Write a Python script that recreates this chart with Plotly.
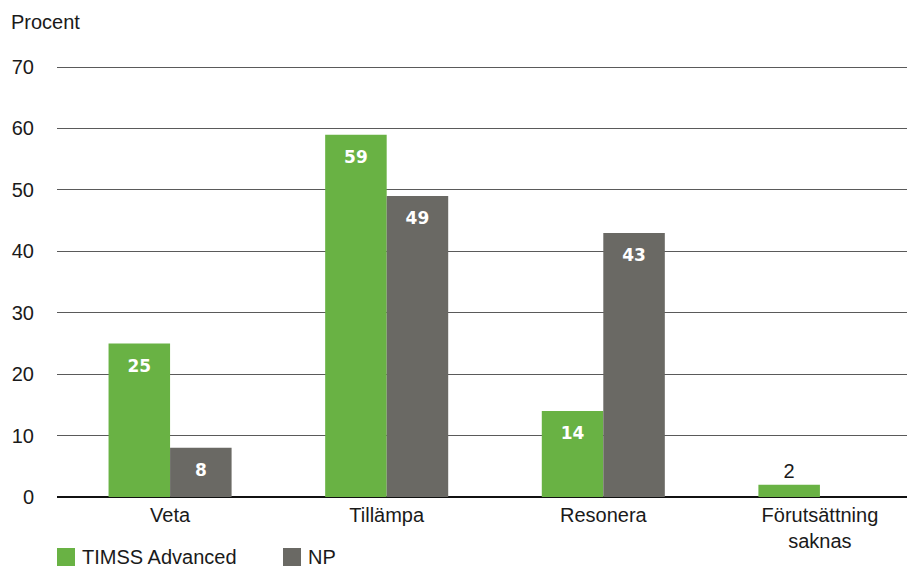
import plotly.graph_objects as go

# Data
categories = ["Veta", "Tillämpa", "Resonera", "Förutsättning<br>saknas"]
series_names = ["TIMSS Advanced", "NP"]
timss_values = [25, 59, 14, 2]
np_values = [8, 49, 43, None]
y_ticks = [0, 10, 20, 30, 40, 50, 60, 70]

GREEN = "#69B244"
GRAY = "#6A6964"
TEXT = "#1a1a1a"
FONT = "Liberation Sans, Arial, sans-serif"
FS = 20

W, H = 907, 567
M_L, M_R, M_T, M_B = 57, 0, 64, 70


def label_pos(v):
    return "outside" if v is not None and v < 5 else "inside"


def label_text(v):
    if v is None:
        return ""
    if v < 5:
        return str(v)
    # spacer line keeps the value a little below the top of the bar
    return "<span style='font-size:3px'> </span><br>" + str(v)


fig = go.Figure()
for name, vals, col in [(series_names[0], timss_values, GREEN),
                        (series_names[1], np_values, GRAY)]:
    fig.add_trace(go.Bar(
        name=name,
        x=list(range(len(categories))),
        y=vals,
        marker=dict(color=col, line=dict(width=0)),
        text=[label_text(v) for v in vals],
        textposition=[label_pos(v) for v in vals],
        insidetextanchor="end",
        insidetextfont=dict(family="DejaVu Sans, sans-serif", size=17,
                            color="white", weight="bold"),
        outsidetextfont=dict(family=FONT, size=FS, color=TEXT),
        cliponaxis=False,
        showlegend=False,
    ))

fig.update_layout(
    width=W, height=H,
    margin=dict(l=M_L, r=M_R, t=M_T, b=M_B),
    plot_bgcolor="white", paper_bgcolor="white",
    barmode="group", bargap=0.432, bargroupgap=0,
    font=dict(family=FONT, size=FS, color=TEXT),
    xaxis=dict(
        tickmode="array",
        tickvals=list(range(len(categories))),
        ticktext=categories,
        range=[-0.522, 3.402],
        showgrid=False, zeroline=False,
        showline=False, ticks="",
        ticklabelstandoff=4,
        tickfont=dict(size=FS, color=TEXT),
    ),
    yaxis=dict(
        range=[0, 70.5],
        tickvals=y_ticks,
        showgrid=True, gridcolor="#5a5a5a", gridwidth=1,
        zeroline=True, zerolinecolor="#111111", zerolinewidth=1.5,
        showline=False, ticks="",
        ticklabelstandoff=22,
        tickfont=dict(size=FS, color=TEXT),
    ),
)

plot_w = W - M_L - M_R
plot_h = H - M_T - M_B

# Axis title placed above the value labels
fig.add_annotation(
    text="Procent", xref="paper", yref="paper",
    x=-(M_L - 9) / plot_w, y=1 + (M_T - 22) / plot_h,
    xanchor="left", yanchor="middle", showarrow=False,
    font=dict(size=FS, color=TEXT),
)

# Legend drawn as swatches with labels along the bottom edge
legend_items = [(series_names[0], GREEN, 57), (series_names[1], GRAY, 283)]
for name, col, px in legend_items:
    x0 = (px - M_L) / plot_w
    x1 = (px + 18 - M_L) / plot_w
    y0 = -(566 - (H - M_B)) / plot_h
    y1 = -(548 - (H - M_B)) / plot_h
    fig.add_shape(type="rect", xref="paper", yref="paper",
                  x0=x0, x1=x1, y0=y0, y1=y1,
                  fillcolor=col, line=dict(width=0))
    fig.add_annotation(
        text=name, xref="paper", yref="paper",
        x=(px + 23 - M_L) / plot_w, y=-(557 - (H - M_B)) / plot_h,
        xanchor="left", yanchor="middle", showarrow=False,
        font=dict(size=FS, color=TEXT),
    )

fig.write_html("out.html")
